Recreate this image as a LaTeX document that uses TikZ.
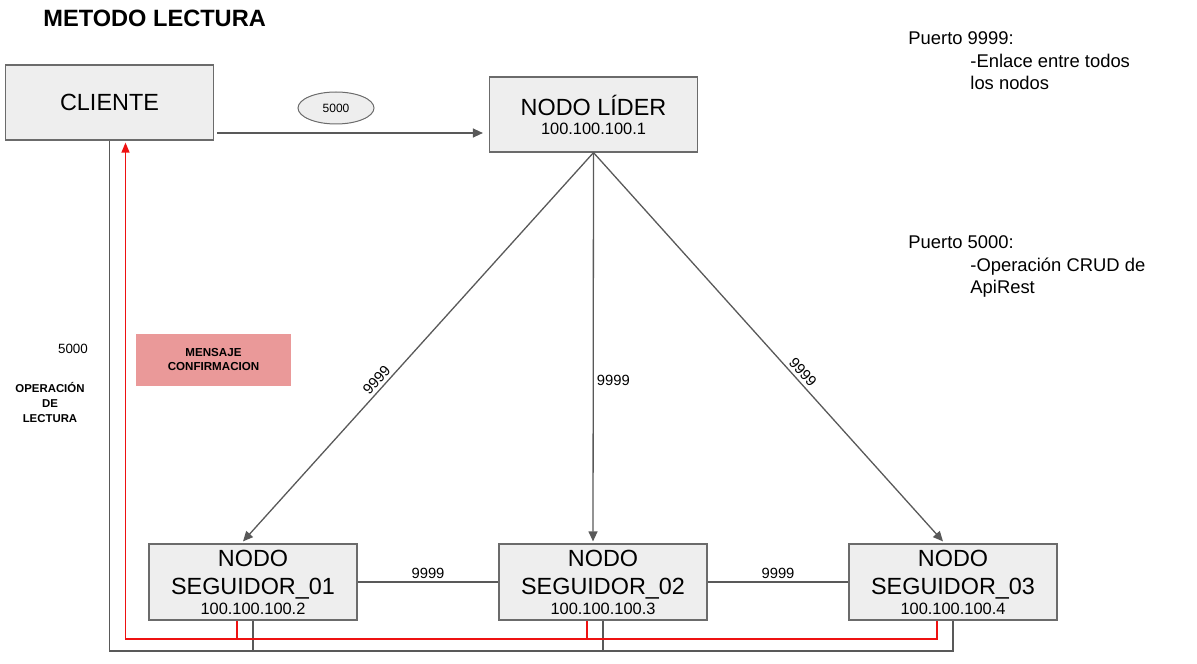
\documentclass[tikz,border=0pt]{standalone}
\usepackage{fontspec}
\setmainfont{Liberation Sans}
\usetikzlibrary{arrows.meta,shapes.geometric}
\definecolor{cajagris}{HTML}{EEEEEE}
\definecolor{lineagris}{HTML}{595959}
\definecolor{bordegris}{HTML}{6B6B6B}
\definecolor{rosa}{HTML}{EA9999}
\definecolor{rojo}{HTML}{EE1111}
\newcommand{\fuenteip}{\fontsize{8.2}{9}\selectfont}

\begin{document}
\begin{tikzpicture}[x=0.5pt,y=-0.5pt,
    caja/.style={draw=bordegris, fill=cajagris, line width=0.6pt, inner sep=0pt,
        minimum width=104pt, minimum height=37.5pt, align=center,
        font=\fontsize{11.7}{14}\selectfont},
    enlace/.style={draw=lineagris, line width=0.65pt},
    flecha/.style={enlace, -{Triangle[length=5pt,width=4.5pt]}},
    retorno/.style={draw=rojo, line width=0.6pt},
    etiqueta/.style={font=\fontsize{7.4}{9}\selectfont, inner sep=1.5pt},
    nota/.style={anchor=base west, inner sep=0pt, font=\fontsize{9.2}{11}\selectfont}]
\useasboundingbox (0,0) rectangle (1197,663);

% titulo
\node[anchor=base west, inner sep=0pt, font=\fontsize{11.8}{14}\selectfont\bfseries] (titulo) at (43,27) {METODO LECTURA};

% nodos
\node[caja] (cliente) at (109.5,102.5) {CLIENTE};
\node[caja] (lider) at (593.5,114.5) {NODO LÍDER\\[-4.5pt]{\fuenteip 100.100.100.1}};
\node[caja, minimum height=38pt] (seg1) at (253,582) {NODO\\SEGUIDOR\_01\\[-4pt]{\fuenteip 100.100.100.2}};
\node[caja, minimum height=38pt] (seg2) at (603,582) {NODO\\SEGUIDOR\_02\\[-4pt]{\fuenteip 100.100.100.3}};
\node[caja, minimum height=38pt] (seg3) at (953,582) {NODO\\SEGUIDOR\_03\\[-4pt]{\fuenteip 100.100.100.4}};

% cliente -> lider
\node[ellipse, draw=bordegris, fill=cajagris, line width=0.5pt, minimum width=38pt, minimum height=16pt,
    inner sep=0pt, font=\fontsize{6}{7}\selectfont] (puerto) at (336,108) {5000};
\coordinate (salida) at ([xshift=1.5pt,yshift=-15.25pt]cliente.east);
\draw[flecha, shorten >=3pt] (salida) -- (salida -| lider.west);

% lider -> seguidores
\draw[flecha] (lider.south) -- ([xshift=-5pt,yshift=1pt]seg1.north)
    node[etiqueta, pos=0.60, sloped, above] (l1) {9999};
\draw[flecha] (lider.south) -- ([xshift=-5pt,yshift=1pt]seg2.north)
    node[etiqueta, pos=0.586, right] (l2) {9999};
\draw[flecha] (lider.south) -- ([xshift=-5pt,yshift=1pt]seg3.north)
    node[etiqueta, pos=0.58, sloped, above] (l3) {9999};

% entre seguidores
\draw[enlace] (seg1.east) -- (seg2.west) node[etiqueta, midway, above] (l12) {9999};
\draw[enlace] (seg2.east) -- (seg3.west) node[etiqueta, midway, above] (l23) {9999};

% lectura (gris)
\coordinate (fondo) at (0,651);
\draw[enlace] (cliente.south) -- (cliente.south |- fondo) -| (seg3.south);
\draw[enlace] (seg1.south) -- (seg1.south |- fondo);
\draw[enlace] (seg2.south) -- (seg2.south |- fondo);

% confirmacion (rojo)
\coordinate (vuelta) at (0,639);
\draw[retorno, -{Triangle[length=5pt,width=4pt]}] ([xshift=-8pt]seg3.south) -- ([xshift=-8pt]seg3.south |- vuelta)
    -| ([xshift=8pt,yshift=-1pt]cliente.south);
\draw[retorno] ([xshift=-8pt]seg1.south) -- ([xshift=-8pt]seg1.south |- vuelta);
\draw[retorno] ([xshift=-8pt]seg2.south) -- ([xshift=-8pt]seg2.south |- vuelta);

% textos
\node[font=\fontsize{6.7}{8}\selectfont, inner sep=0pt] (p5000) at (73,349) {5000};
\node[align=center, inner sep=0pt, font=\fontsize{5.7}{7.5}\selectfont\bfseries] (operacion) at (50,403) {OPERACIÓN\\DE\\LECTURA};
\node[fill=rosa, minimum width=77.5pt, minimum height=26pt, inner sep=0pt, align=center,
    font=\fontsize{5.8}{7}\selectfont\bfseries] (mensaje) at (213.5,360) {MENSAJE\\CONFIRMACION};

\node[nota] (pto9999) at (908,45) {Puerto 9999:};
\node[nota] (enlace1) at (970,68) {-Enlace entre todos};
\node[nota] (enlace2) at (970,90) {los nodos};
\node[nota] (pto5000) at (908,248) {Puerto 5000:};
\node[nota] (crud1) at (970,271) {-Operación CRUD de};
\node[nota] (crud2) at (970,293) {ApiRest};
\end{tikzpicture}
\end{document}
